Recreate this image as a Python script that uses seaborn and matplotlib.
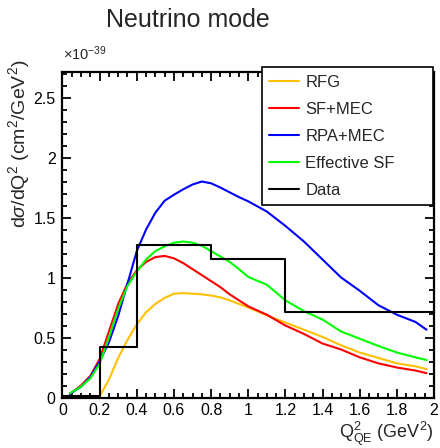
import numpy as np
import pandas as pd
import matplotlib
matplotlib.use("Agg")
import matplotlib.pyplot as plt
from matplotlib.lines import Line2D
from matplotlib.ticker import MultipleLocator
import seaborn as sns

# Q2_QE sampling points (GeV^2) for the model curves
q2 = [0.04, 0.10, 0.15, 0.20, 0.25, 0.30, 0.35, 0.40, 0.45, 0.50,
      0.55, 0.60, 0.65, 0.70, 0.75, 0.80, 0.85, 0.90, 0.95, 1.00,
      1.10, 1.20, 1.30, 1.40, 1.50, 1.60, 1.70, 1.80, 1.90, 1.96]

# dsigma/dQ2 in units of 1e-39 cm^2/GeV^2
rfg = [0.00, 0.00, 0.005, 0.01, 0.15, 0.33, 0.48, 0.61, 0.71, 0.78,
       0.83, 0.865, 0.87, 0.865, 0.86, 0.85, 0.835, 0.81, 0.78, 0.75,
       0.685, 0.625, 0.565, 0.505, 0.435, 0.375, 0.33, 0.285, 0.26, 0.237]
sf_mec = [0.03, 0.10, 0.18, 0.32, 0.55, 0.78, 0.95, 1.06, 1.13, 1.17,
          1.18, 1.16, 1.12, 1.07, 1.02, 0.97, 0.92, 0.86, 0.81, 0.76,
          0.69, 0.60, 0.53, 0.45, 0.40, 0.335, 0.285, 0.25, 0.225, 0.203]
rpa_mec = [0.03, 0.09, 0.17, 0.30, 0.46, 0.68, 0.95, 1.22, 1.40, 1.54,
           1.64, 1.69, 1.735, 1.775, 1.80, 1.785, 1.75, 1.71, 1.67, 1.635,
           1.55, 1.43, 1.30, 1.15, 1.00, 0.89, 0.77, 0.69, 0.63, 0.565]
eff_sf = [0.035, 0.09, 0.16, 0.28, 0.50, 0.74, 0.93, 1.05, 1.15, 1.22,
          1.26, 1.29, 1.30, 1.29, 1.265, 1.22, 1.175, 1.13, 1.07, 1.005,
          0.94, 0.81, 0.72, 0.65, 0.55, 0.49, 0.43, 0.375, 0.335, 0.312]

# Measured cross section, binned in Q2_QE
bin_edges = [0.0, 0.2, 0.4, 0.8, 1.2, 2.0]
data_vals = [0.01, 0.42, 1.27, 1.155, 0.71]

models = ["RFG", "SF+MEC", "RPA+MEC", "Effective SF"]
colors = ["#ffc000", "#ff0000", "#0000ff", "#00ff00"]

df = pd.concat([
    pd.DataFrame({"Q2": q2, "xsec": vals, "model": name})
    for name, vals in zip(models, [rfg, sf_mec, rpa_mec, eff_sf])
])

sns.set_theme(style="ticks")
plt.rcParams["font.family"] = ["Liberation Sans", "DejaVu Sans"]
plt.rcParams["mathtext.fontset"] = "custom"
plt.rcParams["mathtext.rm"] = "Liberation Sans"
plt.rcParams["mathtext.it"] = "Liberation Sans:italic"
plt.rcParams["mathtext.bf"] = "Liberation Sans:bold"

fig = plt.figure(figsize=(4.4, 4.48), dpi=100)
ax = fig.add_axes([0.1420, 0.1127, 0.8443, 0.7272])

sns.lineplot(data=df, x="Q2", y="xsec", hue="model", hue_order=models,
             palette=colors, linewidth=1.5, legend=False, ax=ax, sort=False)

centers = [(a + b) / 2 for a, b in zip(bin_edges[:-1], bin_edges[1:])]
sns.histplot(x=centers, weights=data_vals, bins=bin_edges, element="step",
             fill=False, color="black", linewidth=1.5, ax=ax)

ax.set_xlim(0, 2)
ax.set_ylim(0, 2.715)
ax.xaxis.set_major_locator(MultipleLocator(0.2))
ax.xaxis.set_minor_locator(MultipleLocator(0.05))
ax.yaxis.set_major_locator(MultipleLocator(0.5))
ax.yaxis.set_minor_locator(MultipleLocator(0.1))
ax.set_xticks(np.arange(0, 2.01, 0.2))
ax.set_xticklabels(["0", "0.2", "0.4", "0.6", "0.8", "1", "1.2", "1.4", "1.6", "1.8", "2"])
ax.set_yticks([0, 0.5, 1.0, 1.5, 2.0, 2.5])
ax.set_yticklabels(["0", "0.5", "1", "1.5", "2", "2.5"])

ax.tick_params(which="both", direction="in", top=True, right=True,
               color="black", labelcolor="black", labelsize=11.5)
ax.tick_params(which="major", length=6.5, width=1.3)
ax.tick_params(which="minor", length=3.3, width=1.3)
ax.tick_params(axis="x", which="major", pad=4)
ax.tick_params(axis="y", which="major", pad=5)
for sp in ax.spines.values():
    sp.set_visible(True)
    sp.set_linewidth(1.6)
    sp.set_color("black")

ax.set_xlabel(r"Q$^{2}_{\mathrm{QE}}$ (GeV$^{2}$)", fontsize=13, ha="right")
ax.xaxis.set_label_coords(1.0, -0.068)
ax.set_ylabel(r"d$\sigma$/dQ$^{2}$ (cm$^{2}$/GeV$^{2}$)", fontsize=14, ha="right")
ax.yaxis.set_label_coords(-0.082, 1.036)

fig.text(62.5 / 440, 1 - 60 / 448, r"$\times$10$^{-39}$", fontsize=10.5,
         ha="left", va="baseline")
fig.text(0.427, 1 - 27 / 448, "Neutrino mode", fontsize=18,
         ha="center", va="baseline")

handles = [Line2D([], [], color=c, lw=1.5) for c in colors] + \
          [Line2D([], [], color="black", lw=1.5)]
leg = ax.legend(handles, models + ["Data"], loc="upper left",
                bbox_to_anchor=(0.537, 1.014, 0.46, 0.0), mode="expand",
                borderaxespad=0, fontsize=12, frameon=True, fancybox=False,
                framealpha=1, edgecolor="black", handlelength=1.75,
                handletextpad=0.4, labelspacing=0.72, borderpad=0.45)
leg.get_frame().set_linewidth(1.2)

fig.savefig("out.png", dpi=100)
